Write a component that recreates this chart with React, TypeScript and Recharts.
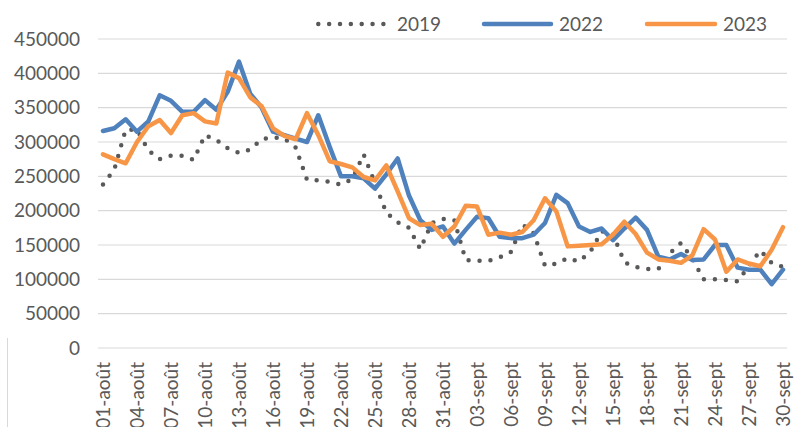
import React from 'react';
import { LineChart, Line, XAxis, YAxis, CartesianGrid } from 'recharts';

const dates = [
  '01-août', '02-août', '03-août', '04-août', '05-août', '06-août', '07-août', '08-août', '09-août', '10-août',
  '11-août', '12-août', '13-août', '14-août', '15-août', '16-août', '17-août', '18-août', '19-août', '20-août',
  '21-août', '22-août', '23-août', '24-août', '25-août', '26-août', '27-août', '28-août', '29-août', '30-août',
  '31-août', '01-sept', '02-sept', '03-sept', '04-sept', '05-sept', '06-sept', '07-sept', '08-sept', '09-sept',
  '10-sept', '11-sept', '12-sept', '13-sept', '14-sept', '15-sept', '16-sept', '17-sept', '18-sept', '19-sept',
  '20-sept', '21-sept', '22-sept', '23-sept', '24-sept', '25-sept', '26-sept', '27-sept', '28-sept', '29-sept',
  '30-sept',
];

const v2019 = [
  238000, 260000, 318000, 318000, 288000, 275000, 280000, 280000, 274000, 310000,
  303000, 291000, 284000, 289000, 304000, 307000, 305000, 292000, 245000, 244000,
  242000, 238000, 246000, 282000, 240000, 197000, 183000, 175000, 144000, 182000,
  188000, 186000, 128000, 127000, 127000, 132000, 140000, 180000, 167000, 120000,
  123000, 131000, 126000, 140000, 170000, 166000, 125000, 118000, 115000, 115000,
  138000, 153000, 130000, 100000, 100000, 99000, 97000, 120000, 142000, 124000,
  118000,
];

const v2022 = [
  316000, 320000, 333000, 315000, 330000, 368000, 360000, 344000, 344000, 361000,
  347000, 373000, 417000, 370000, 350000, 315000, 310000, 305000, 300000, 339000,
  293000, 250000, 250000, 247000, 232000, 253000, 276000, 222000, 186000, 172000,
  177000, 152000, 172000, 191000, 189000, 162000, 160000, 160000, 165000, 182000,
  223000, 211000, 177000, 169000, 174000, 157000, 174000, 190000, 172000, 133000,
  129000, 137000, 128000, 129000, 150000, 150000, 117000, 114000, 114000, 93000,
  114000,
];

const v2023 = [
  282000, 275000, 269000, 300000, 323000, 332000, 313000, 339000, 342000, 330000,
  327000, 401000, 393000, 365000, 352000, 320000, 309000, 304000, 342000, 310000,
  272000, 268000, 263000, 249000, 244000, 266000, 228000, 189000, 179000, 181000,
  162000, 177000, 207000, 206000, 165000, 168000, 165000, 169000, 186000, 218000,
  199000, 148000, 149000, 150000, 151000, 165000, 184000, 166000, 139000, 129000,
  127000, 124000, 135000, 173000, 158000, 111000, 129000, 123000, 119000, 143000,
  176000,
];

const yTicks = [0, 50000, 100000, 150000, 200000, 250000, 300000, 350000, 400000, 450000];

const data = dates.map((date, i) => ({
  date,
  y2019: v2019[i],
  y2022: v2022[i],
  y2023: v2023[i],
}));

const FONT = 'Lato, "Liberation Sans", sans-serif';
const TEXT = '#595959';
const GRAY = '#595959';
const BLUE = '#4F81BD';
const ORANGE = '#F79646';

function DateTick(props: any) {
  const { x, y, payload } = props;
  const ty = y + 14;
  return (
    <text
      x={x}
      y={ty}
      transform={`rotate(-90, ${x}, ${ty})`}
      textAnchor="end"
      dy="0.35em"
      fill={TEXT}
      fontSize={19}
      fontFamily={FONT}
    >
      {payload.value}
    </text>
  );
}

function TopLegend() {
  const txt = { fill: TEXT, fontSize: 19, fontFamily: FONT };
  return (
    <svg width={802} height={40} style={{ position: 'absolute', left: 0, top: 0 }}>
      <line x1={318.3} x2={383.5} y1={24} y2={24} stroke={GRAY} strokeWidth={4.5}
        strokeDasharray="0 10.85" strokeLinecap="round" />
      <text x={397} y={24.5} dy="0.35em" {...txt}>2019</text>
      <line x1={484} x2={551} y1={24} y2={24} stroke={BLUE} strokeWidth={4.5} strokeLinecap="round" />
      <text x={559} y={24.5} dy="0.35em" {...txt}>2022</text>
      <line x1={647} x2={715} y1={24} y2={24} stroke={ORANGE} strokeWidth={4.5} strokeLinecap="round" />
      <text x={723} y={24.5} dy="0.35em" {...txt}>2023</text>
    </svg>
  );
}

export default function App() {
  return (
    <div
      style={{
        position: 'absolute',
        left: 0,
        top: 0,
        width: 802,
        height: 427,
        overflow: 'hidden',
        background: '#fff',
      }}
    >
      <LineChart
        width={802}
        height={480}
        data={data}
        margin={{ top: 39, right: 15, left: 8, bottom: 52 }}
      >
        <CartesianGrid vertical={false} stroke="#d9d9d9" strokeWidth={1.2} />
        <XAxis
          dataKey="date"
          interval={2}
          height={80}
          tickSize={0}
          tickMargin={0}
          axisLine={false}
          tickLine={false}
          padding={{ left: 5, right: 4 }}
          tick={<DateTick />}
        />
        <YAxis
          domain={[0, 450000]}
          ticks={yTicks}
          width={90}
          tickSize={0}
          tickMargin={18}
          axisLine={false}
          tickLine={false}
          tick={{ fill: TEXT, fontSize: 19, fontFamily: FONT }}
        />
        <Line
          type="linear"
          dataKey="y2019"
          stroke={GRAY}
          strokeWidth={4.5}
          strokeDasharray="0 11"
          strokeLinecap="round"
          dot={false}
          activeDot={false}
          isAnimationActive={false}
        />
        <Line
          type="linear"
          dataKey="y2022"
          stroke={BLUE}
          strokeWidth={4.5}
          strokeLinejoin="round"
          strokeLinecap="round"
          dot={false}
          activeDot={false}
          isAnimationActive={false}
        />
        <Line
          type="linear"
          dataKey="y2023"
          stroke={ORANGE}
          strokeWidth={4.5}
          strokeLinejoin="round"
          strokeLinecap="round"
          dot={false}
          activeDot={false}
          isAnimationActive={false}
        />
      </LineChart>
      <TopLegend />
      <div style={{ position: 'absolute', left: 7, top: 338, width: 1, height: 90, background: '#d9d9d9' }} />
    </div>
  );
}
